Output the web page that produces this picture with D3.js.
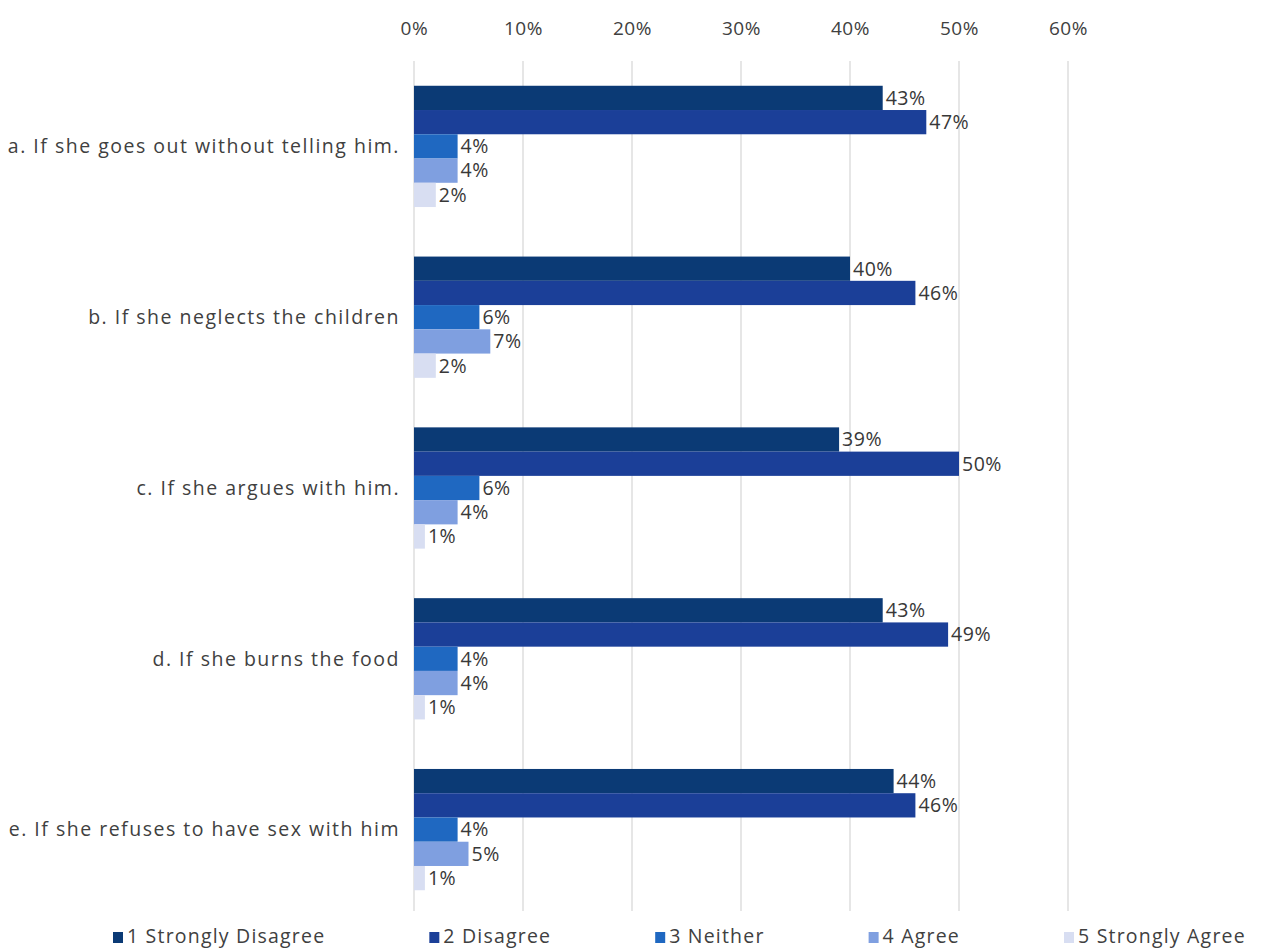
<!DOCTYPE html>
<html>
<head>
<meta charset="utf-8">
<script src="https://cdn.jsdelivr.net/npm/d3@7"></script>
<style>
  body { margin: 0; background: #fff; }
  text { font-family: "Open Sans", "DejaVu Sans", sans-serif; fill: #404040; }
</style>
</head>
<body>
<svg id="chart"></svg>
<script>
// categories (top to bottom)
const questions = [
  "a. If she goes out without telling him.",
  "b. If she neglects the children",
  "c. If she argues with him.",
  "d. If she burns the food",
  "e. If she refuses to have sex with him"
];
const responses = ["1 Strongly Disagree", "2 Disagree", "3 Neither", "4 Agree", "5 Strongly Agree"];
// values in percent, one array per response, in question order
const stronglyDisagree = [43, 40, 39, 43, 44];
const disagree        = [47, 46, 50, 49, 46];
const neither         = [4, 6, 6, 4, 4];
const agree           = [4, 7, 4, 4, 5];
const stronglyAgree   = [2, 2, 1, 1, 1];
const xTicks = [0, 10, 20, 30, 40, 50, 60];
const colors = ["#0b3a75", "#1b3f98", "#1f68c1", "#7f9fe0", "#d8def2"];

const series = [stronglyDisagree, disagree, neither, agree, stronglyAgree];

const config = {
  width: 1265, height: 951,
  margin: { top: 61, right: 197, bottom: 36, left: 414 }
};
const innerH = config.height - config.margin.top - config.margin.bottom;

const svg = d3.select("#chart")
  .attr("width", config.width)
  .attr("height", config.height);

const chart = svg.append("g")
  .attr("transform", `translate(${config.margin.left},${config.margin.top})`);

const x = d3.scaleLinear().domain([0, 60]).range([0, 654]);

const y = d3.scaleBand().domain(questions).range([0, innerH]).paddingInner(0.29).paddingOuter(0.145);
const ySub = d3.scaleBand().domain(responses).range([0, y.bandwidth()]);

// gridlines
chart.selectAll(".grid")
  .data(xTicks)
  .join("line")
  .attr("class", "grid")
  .attr("x1", d => x(d)).attr("x2", d => x(d))
  .attr("y1", 0).attr("y2", innerH - 4)
  .attr("stroke", "#d9d9d9")
  .attr("stroke-width", 1.3);

// top axis labels
const xAxis = chart.append("g")
  .call(d3.axisTop(x).tickValues(xTicks).tickFormat(d => d + "%").tickSize(0).tickPadding(26));
xAxis.select(".domain").remove();
xAxis.selectAll("text")
  .style("font-family", "'Open Sans', sans-serif")
  .style("font-size", "19px")
  .style("letter-spacing", "0.6px")
  .attr("fill", "#595959");

// category labels
chart.selectAll(".qlabel")
  .data(questions)
  .join("text")
  .attr("class", "qlabel")
  .attr("x", -14)
  .attr("y", d => y(d) + y.bandwidth() / 2)
  .attr("dy", "0.35em")
  .attr("text-anchor", "end")
  .style("font-size", "19.5px")
  .style("letter-spacing", "1.5px")
  .text(d => d);

// bars
const rows = [];
questions.forEach((q, i) => {
  responses.forEach((r, j) => rows.push({ q, r, j, v: series[j][i] }));
});

chart.selectAll(".bar")
  .data(rows)
  .join("rect")
  .attr("class", "bar")
  .attr("x", x(0))
  .attr("y", d => y(d.q) + ySub(d.r))
  .attr("width", d => x(d.v) - x(0))
  .attr("height", ySub.bandwidth())
  .attr("fill", d => colors[d.j]);

chart.selectAll(".vlabel")
  .data(rows)
  .join("text")
  .attr("class", "vlabel")
  .attr("x", d => x(d.v) + 3)
  .attr("y", d => y(d.q) + ySub(d.r) + ySub.bandwidth() / 2)
  .attr("dy", "0.35em")
  .style("font-size", "19.5px")
  .style("letter-spacing", "0.5px")
  .style("fill", "#383838")
  .text(d => d.v + "%");

// legend
const legend = svg.append("g").attr("transform", `translate(113, 937)`);
let lx = 0;
responses.forEach((r, j) => {
  const g = legend.append("g").attr("transform", `translate(${lx},0)`);
  g.append("rect").attr("x", 0).attr("y", -5).attr("width", 10).attr("height", 11).attr("fill", colors[j]);
  const t = g.append("text").attr("x", 14).attr("y", 0).attr("dy", "0.32em")
    .style("font-size", "19.5px").style("letter-spacing", "1.2px").text(r);
  lx += 14 + t.node().getComputedTextLength() + 104;
});
</script>
</body>
</html>
